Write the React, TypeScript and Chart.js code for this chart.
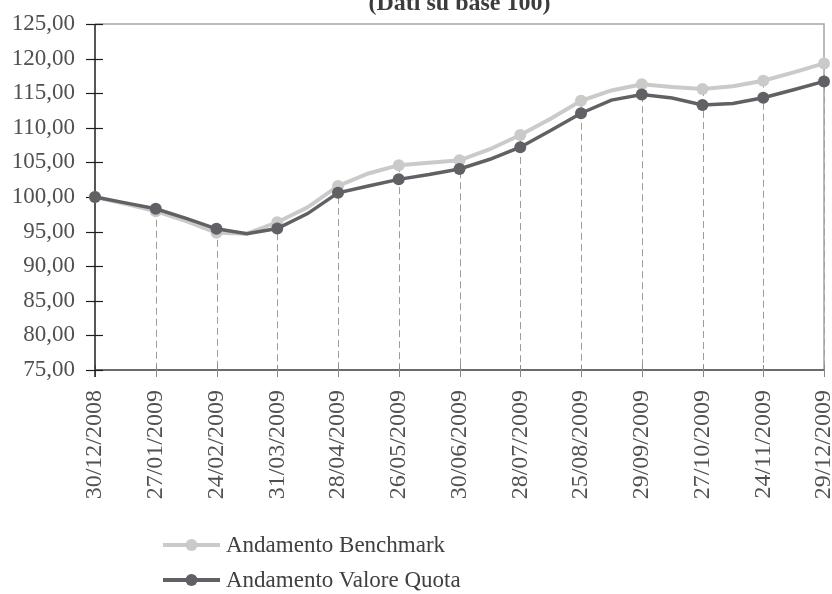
import React, { useEffect, useRef } from 'react';
import { Chart, registerables } from 'chart.js';

Chart.register(...registerables);

// Category labels (x axis)
const DATES = [
  '30/12/2008', '27/01/2009', '24/02/2009', '31/03/2009', '28/04/2009', '26/05/2009',
  '30/06/2009', '28/07/2009', '25/08/2009', '29/09/2009', '27/10/2009', '24/11/2009', '29/12/2009',
];

// Series values: one value at each labelled date plus one between consecutive dates
const BENCHMARK = [
  100.0, 99.0, 97.95, 96.5, 94.85, 94.7, 96.35, 98.5, 101.6, 103.4, 104.6, 104.95, 105.3,
  106.9, 108.95, 111.3, 113.9, 115.4, 116.3, 115.9, 115.6, 116.0, 116.8, 118.0, 119.3,
];
const QUOTA = [
  100.0, 99.15, 98.3, 96.9, 95.4, 94.7, 95.45, 97.6, 100.6, 101.6, 102.55, 103.25, 104.05,
  105.45, 107.2, 109.6, 112.1, 114.0, 114.8, 114.3, 113.3, 113.5, 114.35, 115.5, 116.7,
];

const SERIES_NAMES = ['Andamento Benchmark', 'Andamento Valore Quota'];
const TITLE = '(Dati su base 100)';
const Y_MIN = 75;
const Y_MAX = 125;
const Y_STEP = 5;

const LIGHT = '#cacaca';
const DARK = '#606065';
const TEXT = '#505050';
const FONT = '"Liberation Serif", "Times New Roman", serif';

const fmt = (v: number) => Number(v).toFixed(2).replace('.', ',');

const decorPlugin = {
  id: 'decor',
  beforeDatasetsDraw(chart: any) {
    const { ctx, chartArea, scales } = chart;
    const { left, right, top, bottom } = chartArea;
    const x = scales.x;
    const y = scales.y;
    ctx.save();
    // drop lines
    ctx.strokeStyle = '#9c9c9c';
    ctx.lineWidth = 1;
    ctx.setLineDash([7, 4]);
    DATES.forEach((_, i) => {
      if (i === 0) return;
      const v = Math.max(BENCHMARK[2 * i], QUOTA[2 * i]);
      const px = Math.round(x.getPixelForValue(i)) + 0.5;
      ctx.beginPath();
      ctx.moveTo(px, y.getPixelForValue(v));
      ctx.lineTo(px, bottom);
      ctx.stroke();
    });
    ctx.setLineDash([]);
    // top and right border
    ctx.strokeStyle = '#a5a5a5';
    ctx.lineWidth = 1.5;
    ctx.beginPath();
    ctx.moveTo(left, top);
    ctx.lineTo(right, top);
    ctx.lineTo(right, bottom);
    ctx.stroke();
    // x axis
    ctx.strokeStyle = '#6c6c6c';
    ctx.lineWidth = 2;
    ctx.beginPath();
    ctx.moveTo(left, bottom);
    ctx.lineTo(right, bottom);
    ctx.stroke();
    // x ticks
    ctx.lineWidth = 1;
    ctx.strokeStyle = '#8a8a8a';
    DATES.forEach((_, i) => {
      const px = Math.round(x.getPixelForValue(i)) + 0.5;
      ctx.beginPath();
      ctx.moveTo(px, bottom - 5);
      ctx.lineTo(px, bottom + 7);
      ctx.stroke();
    });
    // y axis
    ctx.strokeStyle = '#1e1e1e';
    ctx.lineWidth = 1.5;
    ctx.beginPath();
    ctx.moveTo(left, top);
    ctx.lineTo(left, bottom + 7);
    ctx.stroke();
    // y ticks (crossing)
    ctx.lineWidth = 1.2;
    for (let v = Y_MIN; v <= Y_MAX; v += Y_STEP) {
      const py = Math.round(y.getPixelForValue(v)) + 0.5;
      ctx.beginPath();
      ctx.moveTo(left - 9, py);
      ctx.lineTo(left + 8, py);
      ctx.stroke();
    }
    ctx.restore();
  },
  afterDraw(chart: any) {
    const { ctx, chartArea } = chart;
    ctx.save();
    ctx.font = `bold 24px ${FONT}`;
    ctx.fillStyle = '#3c3c3c';
    ctx.textAlign = 'center';
    ctx.textBaseline = 'alphabetic';
    ctx.fillText(TITLE, (chartArea.left + chartArea.right) / 2, 10);
    ctx.restore();
  },
};

function LegendRow({ color, label, top }: { color: string; label: string; top: number }) {
  return (
    <div
      style={{
        position: 'absolute',
        left: 163,
        top: top - 14,
        height: 28,
        display: 'flex',
        alignItems: 'center',
        whiteSpace: 'nowrap',
      }}
    >
      <svg width={57} height={14} style={{ display: 'block' }}>
        <line x1={0} y1={7} x2={57} y2={7} stroke={color} strokeWidth={4} />
        <circle cx={28.5} cy={7} r={6} fill={color} />
      </svg>
      <span style={{ marginLeft: 6, font: `23px ${FONT}`, color: '#404040', lineHeight: '28px' }}>{label}</span>
    </div>
  );
}

export default function App() {
  const canvasRef = useRef<HTMLCanvasElement | null>(null);

  useEffect(() => {
    if (!canvasRef.current) return;
    const pointRadius = (c: any) => (c.dataIndex % 2 === 0 ? 6 : 0);
    const chart = new Chart(canvasRef.current, {
      type: 'line',
      data: {
        datasets: [
          {
            label: SERIES_NAMES[0],
            data: BENCHMARK.map((v, i) => ({ x: i / 2, y: v })),
            borderColor: LIGHT,
            backgroundColor: LIGHT,
            borderWidth: 4,
            pointRadius,
            pointBorderWidth: 0,
            pointHoverRadius: pointRadius,
            tension: 0,
            clip: false,
            order: 2,
          } as any,
          {
            label: SERIES_NAMES[1],
            data: QUOTA.map((v, i) => ({ x: i / 2, y: v })),
            borderColor: DARK,
            backgroundColor: DARK,
            borderWidth: 3.5,
            pointRadius,
            pointBorderWidth: 0,
            pointHoverRadius: pointRadius,
            tension: 0,
            clip: false,
            order: 1,
          } as any,
        ],
      },
      options: {
        responsive: false,
        animation: false,
        devicePixelRatio: 1,
        layout: { padding: { top: 24, right: 8, left: 0, bottom: 0 } },
        plugins: {
          legend: { display: false },
          tooltip: { enabled: false },
          title: { display: false },
        },
        scales: {
          x: {
            type: 'linear',
            min: 0,
            max: DATES.length - 1,
            grid: { display: false, drawTicks: false },
            border: { display: false },
            ticks: {
              stepSize: 1,
              autoSkip: false,
              maxRotation: 90,
              minRotation: 90,
              padding: 20,
              color: TEXT,
              font: { family: FONT, size: 24 },
              callback: (v: any) => DATES[Number(v)] ?? '',
            },
            afterFit: (s: any) => {
              s.height = 224;
              s.paddingLeft = 0;
              s.paddingRight = 0;
            },
          } as any,
          y: {
            min: Y_MIN,
            max: Y_MAX,
            grid: { display: false, drawTicks: false },
            border: { display: false },
            ticks: {
              stepSize: Y_STEP,
              padding: 20,
              color: TEXT,
              font: { family: FONT, size: 23 },
              callback: (v: any) => fmt(v),
            },
            afterFit: (s: any) => {
              s.width = 95;
              s.paddingTop = 0;
              s.paddingBottom = 0;
            },
          } as any,
        },
      },
      plugins: [decorPlugin],
    });
    return () => chart.destroy();
  }, []);

  return (
    <div style={{ position: 'absolute', left: 0, top: 0, width: 832, height: 594, background: '#fff' }}>
      <canvas ref={canvasRef} width={832} height={594} style={{ display: 'block', width: 832, height: 594 }} />
      <LegendRow color={LIGHT} label={SERIES_NAMES[0]} top={545} />
      <LegendRow color={DARK} label={SERIES_NAMES[1]} top={580} />
    </div>
  );
}
